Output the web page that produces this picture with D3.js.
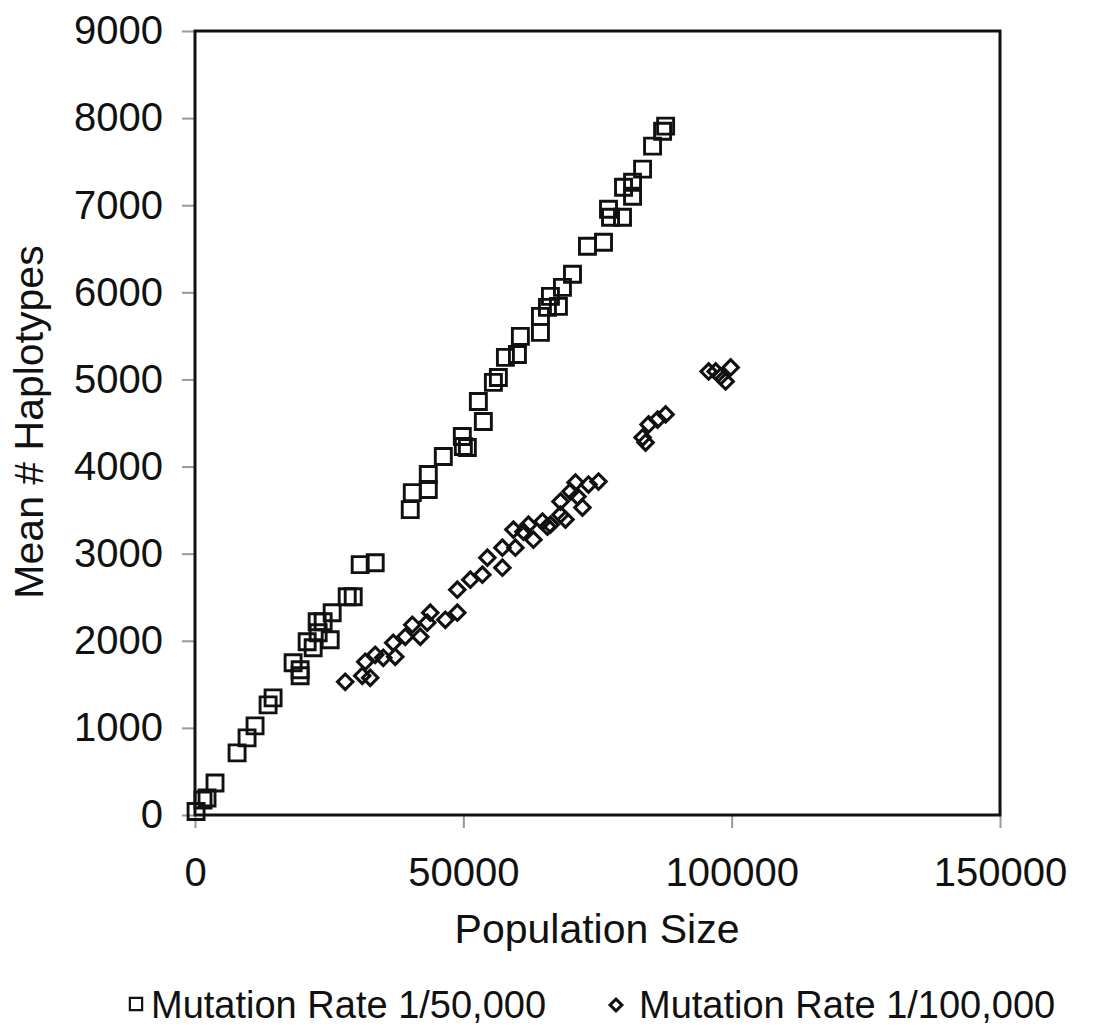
<!DOCTYPE html>
<html>
<head>
<meta charset="utf-8">
<script src="https://cdn.jsdelivr.net/npm/d3@7"></script>
<style>
  body { margin: 0; background: #fff; }
  text { font-family: "Liberation Sans", Arial, sans-serif; fill: #111; }
</style>
</head>
<body>
<div id="container"></div>
<script>
// values
var xTicks = [0, 50000, 100000, 150000];
var yTicks = [0, 1000, 2000, 3000, 4000, 5000, 6000, 7000, 8000, 9000];

// Mutation Rate 1/50,000 (squares)
var popA = [200, 1490, 2240, 3730, 7840, 9700, 11190, 13620, 14550, 18280, 19590, 19590,
  20900, 22020, 22760, 23880, 22950, 25190, 25560, 28360, 29480, 30780, 33580,
  40110, 40490, 43470, 43470, 46270, 49810, 50000, 50750, 52800, 53730, 55600, 56530,
  57840, 60080, 60630, 64370, 64370, 65670, 67720, 66230, 68470, 70340, 73130, 76120,
  77430, 77050, 79660, 79850, 81530, 81530, 83400, 85260, 87130, 87690];
var hapA = [40, 172, 195, 368, 713, 885, 1023, 1264, 1345, 1747, 1667, 1598,
  1989, 1920, 2218, 2218, 2092, 2011, 2322, 2506, 2506, 2874, 2896,
  3506, 3701, 3736, 3908, 4115, 4345, 4230, 4218, 4747, 4517, 4966, 5023,
  5253, 5287, 5494, 5540, 5724, 5827, 5839, 5954, 6057, 6207, 6529, 6575,
  6862, 6954, 6862, 7207, 7103, 7264, 7414, 7678, 7850, 7908];

// Mutation Rate 1/100,000 (diamonds)
var popB = [27990, 31160, 32650, 31720, 35080, 33580, 37310, 36940, 39180, 40490, 41980,
  43840, 43280, 46640, 48880, 48880, 51310, 53550, 57280, 54480, 57280, 59700, 59330,
  61200, 62130, 64740, 63060, 65670, 66230, 69030, 68100, 68100, 69960, 71270, 72200,
  70900, 75190, 73320, 83400, 83960, 84520, 86200, 87690, 95710, 97020, 97950, 98880, 99810];
var hapB = [1529, 1598, 1575, 1759, 1805, 1839, 1816, 1977, 2046, 2184, 2046,
  2322, 2207, 2241, 2322, 2586, 2701, 2759, 2839, 2954, 3069, 3069, 3276,
  3253, 3333, 3368, 3161, 3310, 3333, 3391, 3448, 3598, 3713, 3655, 3529,
  3816, 3828, 3793, 4333, 4276, 4483, 4540, 4598, 5092, 5092, 5034, 4977, 5138];

var legendNames = ["Mutation Rate 1/50,000", "Mutation Rate 1/100,000"];

var width = 1107, height = 1030;

var svg = d3.select("#container").append("svg")
  .attr("width", width).attr("height", height);

var x = d3.scaleLinear().domain([0, 150000]).range([195, 1000]),
  y = d3.scaleLinear().domain([0, 9000]).range([815, 31]);

// axes, ticks outward and grey like the original
var xAxis = svg.append("g").attr("transform", "translate(0,815)")
  .call(d3.axisBottom(x).tickValues(xTicks).tickFormat(d3.format("d")).tickSize(13).tickPadding(30));
var yAxis = svg.append("g").attr("transform", "translate(195,0)")
  .call(d3.axisLeft(y).tickValues(yTicks).tickFormat(d3.format("d")).tickSize(13).tickPadding(19));

[xAxis, yAxis].forEach(function(a){
  a.select(".domain").remove();
  a.selectAll(".tick line").attr("stroke", "#999").attr("stroke-width", 2);
  a.selectAll(".tick text").style("font-size", "40px").attr("fill", "#111");
});
xAxis.selectAll(".tick text").attr("dy", "0.71em");

// frame
svg.append("rect")
  .attr("x", x(0)).attr("y", y(9000))
  .attr("width", x(150000) - x(0)).attr("height", y(0) - y(9000))
  .attr("fill", "none").attr("stroke", "#111").attr("stroke-width", 3);

var square = d3.symbol().type(d3.symbolSquare).size(256),
  diamond = d3.symbol().type(d3.symbolSquare).size(118);

svg.append("g").selectAll("path")
  .data(d3.zip(popA, hapA)).enter().append("path")
  .attr("d", square)
  .attr("transform", function(d){ return "translate(" + x(d[0]) + "," + y(d[1]) + ")"; })
  .attr("fill", "none").attr("stroke", "#111").attr("stroke-width", 2.9);

svg.append("g").selectAll("path")
  .data(d3.zip(popB, hapB)).enter().append("path")
  .attr("d", diamond)
  .attr("transform", function(d){ return "translate(" + x(d[0]) + "," + y(d[1]) + ") rotate(45)"; })
  .attr("fill", "none").attr("stroke", "#111").attr("stroke-width", 3.1);

// axis titles
svg.append("text")
  .attr("x", 597).attr("y", 943)
  .attr("text-anchor", "middle").style("font-size", "41px")
  .text("Population Size");

svg.append("text")
  .attr("transform", "translate(43,422) rotate(-90)")
  .attr("text-anchor", "middle").style("font-size", "41px")
  .text("Mean # Haplotypes");

// legend
var leg = svg.append("g");
leg.append("path").attr("d", d3.symbol().type(d3.symbolSquare).size(150))
  .attr("transform", "translate(136,1004)")
  .attr("fill", "none").attr("stroke", "#111").attr("stroke-width", 2.2);
leg.append("text").attr("x", 151).attr("y", 1018).style("font-size", "38px").text(legendNames[0]);
leg.append("path").attr("d", d3.symbol().type(d3.symbolSquare).size(70))
  .attr("transform", "translate(616,1005) rotate(45)")
  .attr("fill", "none").attr("stroke", "#111").attr("stroke-width", 3);
leg.append("text").attr("x", 639).attr("y", 1018).style("font-size", "38px").text(legendNames[1]);
</script>
</body>
</html>
